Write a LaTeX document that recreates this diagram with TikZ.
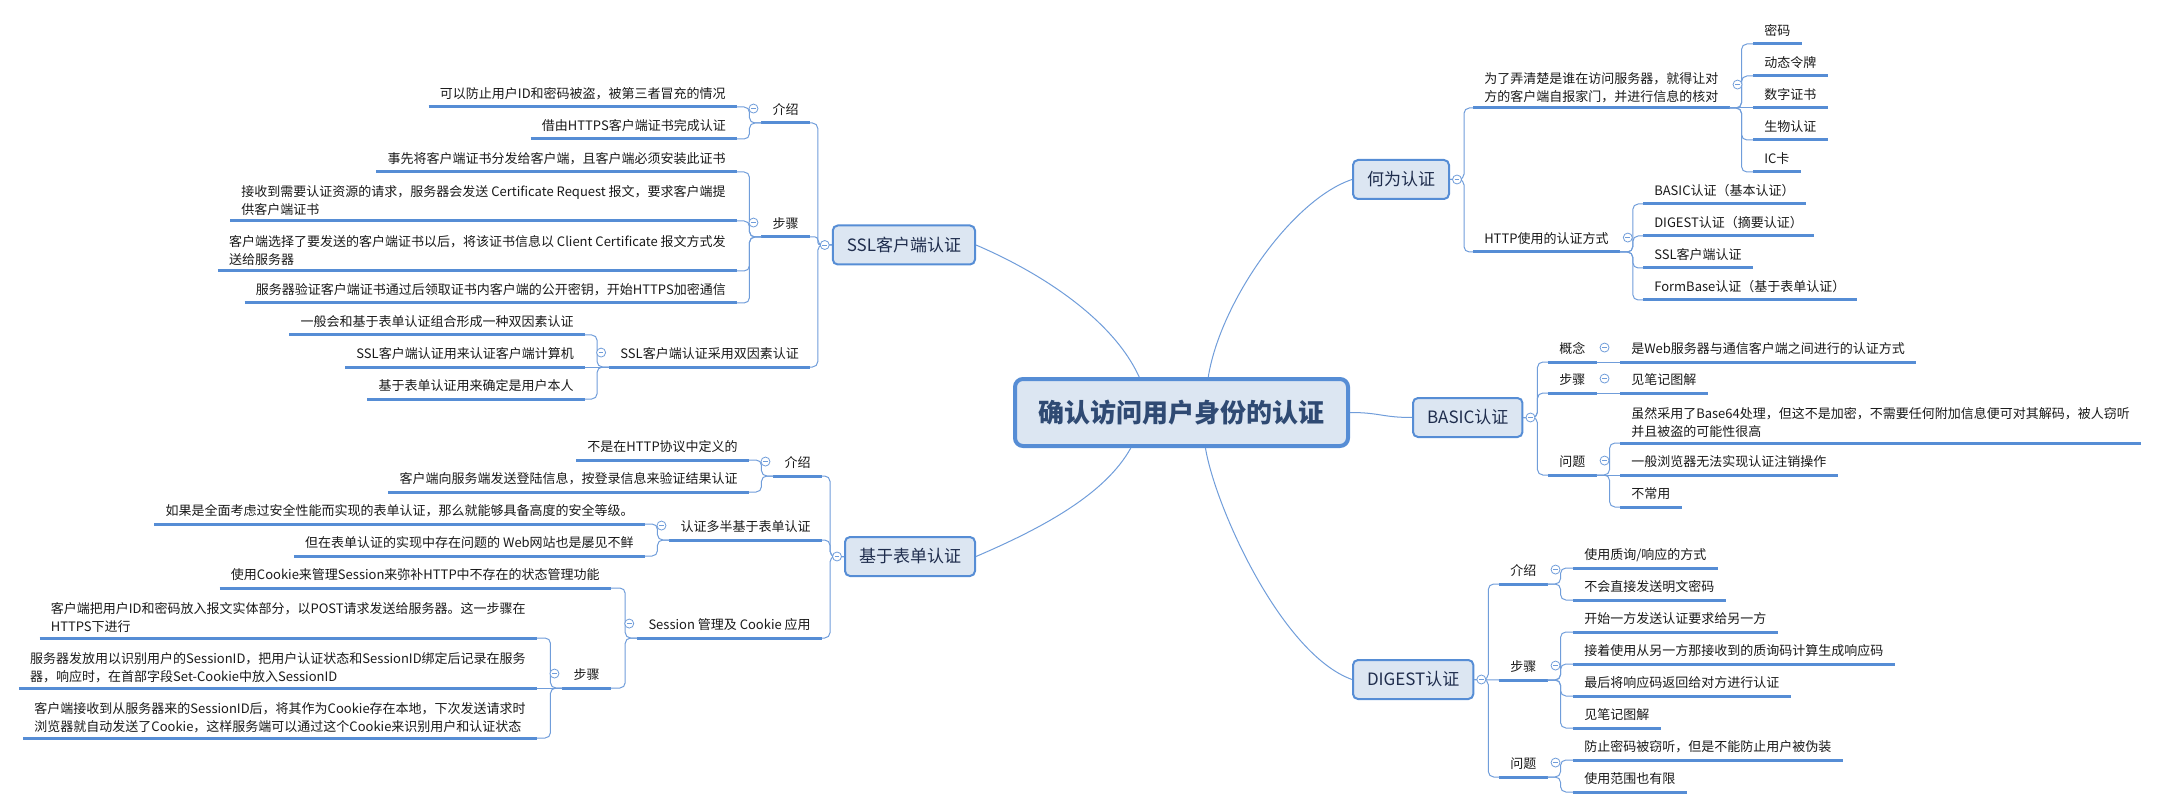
\documentclass[tikz,border=0pt]{standalone}
\usepackage{fontspec}
\setmainfont{Noto Sans CJK SC}
\usetikzlibrary{calc}
\definecolor{mapblue}{RGB}{86,141,213}
\definecolor{linkblue}{RGB}{112,157,218}
\definecolor{boxfill}{RGB}{220,230,242}
\definecolor{roottext}{RGB}{47,74,115}
\definecolor{boxtext}{RGB}{31,45,77}
\definecolor{leaftext}{RGB}{25,25,25}

\begin{document}
\begin{tikzpicture}[x=0.75pt, y=-0.75pt,
    root/.style={draw=mapblue, line width=3pt, fill=boxfill, rounded corners=6pt,
        minimum width=249.75pt, minimum height=50.25pt, text=roottext,
        font=\fontsize{19.5pt}{23pt}\selectfont\bfseries},
    topic/.style={draw=mapblue, line width=1.5pt, fill=boxfill, rounded corners=3.75pt,
        inner xsep=10.5pt, minimum height=29.25pt, text=boxtext,
        font=\fontsize{12.75pt}{15pt}\selectfont},
    uline/.style={draw=mapblue, line width=2.25pt},
    note/.style={inner xsep=8.25pt, text=leaftext, font=\fontsize{9.75pt}{13.5pt}\selectfont,
        append after command={(\tikzlastnode.south west) edge[uline] (\tikzlastnode.south east)}},
    leaf/.style={note, inner ysep=3.75pt, text height=7.5pt, text depth=2.25pt},
    leafm/.style={note, inner ysep=4pt, align=left},
    link/.style={draw=linkblue, line width=0.75pt, rounded corners=4pt},
    fold/.style={circle, draw=linkblue, fill=white, line width=0.6pt, minimum size=6.75pt, inner sep=0pt,
        path picture={\draw[linkblue, line width=0.6pt] ([xshift=1.6pt]path picture bounding box.west)
            -- ([xshift=-1.6pt]path picture bounding box.east);}}]
    \useasboundingbox (0,0) rectangle (2160,809);

    \node[root] (root) at (1181.5,412.5) {确认访问用户身份的认证};

    \node[topic, anchor=west] (what) at (1352,179.5) {何为认证};
    \node[topic, anchor=west] (basic) at (1412,417.5) {BASIC认证};
    \node[topic, anchor=west] (digest) at (1352,679.5) {DIGEST认证};
    \node[topic, anchor=east] (ssl) at (976,245) {SSL客户端认证};
    \node[topic, anchor=east] (form) at (976,556.5) {基于表单认证};

    \draw[link] (root.53) .. controls +(12,-75) and +(-60,20) .. (what.west);
    \draw[link] (root.east) .. controls +(30,0) and +(-30,0) .. (basic.west);
    \draw[link] (root.-56) .. controls +(10,60) and +(-70,-25) .. (digest.west);
    \draw[link] (root.140) .. controls +(-25,-55) and +(70,30) .. (ssl.east);
    \draw[link] (root.-145) .. controls +(-25,45) and +(70,-30) .. (form.east);

    % 何为认证
    \node[leafm, anchor=south west] (what1) at (1473,108) {为了弄清楚是谁在访问服务器，就得让对\\方的客户端自报家门，并进行信息的核对};
    \node[leaf, anchor=south west] (what2) at (1473,252) {HTTP使用的认证方式};
    \node[leaf, anchor=south west] (what1a) at (1753,44) {密码};
    \node[leaf, anchor=south west] (what1b) at (1753,76) {动态令牌};
    \node[leaf, anchor=south west] (what1c) at (1753,108) {数字证书};
    \node[leaf, anchor=south west] (what1d) at (1753,140) {生物认证};
    \node[leaf, anchor=south west] (what1e) at (1753,172) {IC卡};
    \node[leaf, anchor=south west] (what2a) at (1643,204) {BASIC认证（基本认证）};
    \node[leaf, anchor=south west] (what2b) at (1643,236) {DIGEST认证（摘要认证）};
    \node[leaf, anchor=south west] (what2c) at (1643,268) {SSL客户端认证};
    \node[leaf, anchor=south west] (what2d) at (1643,300) {FormBase认证（基于表单认证）};

    \draw[link] (what.east) -- ++(14,0) |- (what1.south west);
    \draw[link] (what.east) -- ++(14,0) |- (what2.south west);
    \draw[link] (what1.south east) -- ++(12,0) |- (what1a.south west);
    \draw[link] (what1.south east) -- ++(12,0) |- (what1b.south west);
    \draw[link] (what1.south east) -- (what1c.south west);
    \draw[link] (what1.south east) -- ++(12,0) |- (what1d.south west);
    \draw[link] (what1.south east) -- ++(12,0) |- (what1e.south west);
    \draw[link] (what2.south east) -- ++(13,0) |- (what2a.south west);
    \draw[link] (what2.south east) -- ++(13,0) |- (what2b.south west);
    \draw[link] (what2.south east) -- ++(13,0) |- (what2c.south west);
    \draw[link] (what2.south east) -- ++(13,0) |- (what2d.south west);

    % BASIC认证
    \node[leaf, anchor=south west] (basic1) at (1548,362) {概念};
    \node[leaf, anchor=south west] (basic2) at (1548,393) {步骤};
    \node[leaf, anchor=south west] (basic3) at (1548,475) {问题};
    \node[leaf, anchor=south west] (basic1a) at (1620,362) {是Web服务器与通信客户端之间进行的认证方式};
    \node[leaf, anchor=south west] (basic2a) at (1620,393) {见笔记图解};
    \node[leafm, anchor=south west] (basic3a) at (1620,443) {虽然采用了Base64处理，但这不是加密，不需要任何附加信息便可对其解码，被人窃听\\并且被盗的可能性很高};
    \node[leaf, anchor=south west] (basic3b) at (1620,475) {一般浏览器无法实现认证注销操作};
    \node[leaf, anchor=south west] (basic3c) at (1620,507) {不常用};

    \draw[link] (basic.east) -- ++(14,0) |- (basic1.south west);
    \draw[link] (basic.east) -- ++(14,0) |- (basic2.south west);
    \draw[link] (basic.east) -- ++(14,0) |- (basic3.south west);
    \draw[link] (basic1.south east) -- (basic1a.south west);
    \draw[link] (basic2.south east) -- (basic2a.south west);
    \draw[link] (basic3.south east) -- ++(13,0) |- (basic3a.south west);
    \draw[link] (basic3.south east) -- (basic3b.south west);
    \draw[link] (basic3.south east) -- ++(13,0) |- (basic3c.south west);

    % DIGEST认证
    \node[leaf, anchor=south west] (digest1) at (1499,584) {介绍};
    \node[leaf, anchor=south west] (digest2) at (1499,680) {步骤};
    \node[leaf, anchor=south west] (digest3) at (1499,777) {问题};
    \node[leaf, anchor=south west] (digest1a) at (1573,568) {使用质询/响应的方式};
    \node[leaf, anchor=south west] (digest1b) at (1573,600) {不会直接发送明文密码};
    \node[leaf, anchor=south west] (digest2a) at (1573,632) {开始一方发送认证要求给另一方};
    \node[leaf, anchor=south west] (digest2b) at (1573,664) {接着使用从另一方那接收到的质询码计算生成响应码};
    \node[leaf, anchor=south west] (digest2c) at (1573,696) {最后将响应码返回给对方进行认证};
    \node[leaf, anchor=south west] (digest2d) at (1573,728) {见笔记图解};
    \node[leaf, anchor=south west] (digest3a) at (1573,760) {防止密码被窃听，但是不能防止用户被伪装};
    \node[leaf, anchor=south west] (digest3b) at (1573,792) {使用范围也有限};

    \draw[link] (digest.east) -- ++(14,0) |- (digest1.south west);
    \draw[link] (digest.east) -- (digest2.south west);
    \draw[link] (digest.east) -- ++(14,0) |- (digest3.south west);
    \draw[link] (digest1.south east) -- ++(13,0) |- (digest1a.south west);
    \draw[link] (digest1.south east) -- ++(13,0) |- (digest1b.south west);
    \draw[link] (digest2.south east) -- ++(13,0) |- (digest2a.south west);
    \draw[link] (digest2.south east) -- ++(13,0) |- (digest2b.south west);
    \draw[link] (digest2.south east) -- ++(13,0) |- (digest2c.south west);
    \draw[link] (digest2.south east) -- ++(13,0) |- (digest2d.south west);
    \draw[link] (digest3.south east) -- ++(13,0) |- (digest3a.south west);
    \draw[link] (digest3.south east) -- ++(13,0) |- (digest3b.south west);

    % SSL客户端认证
    \node[leaf, anchor=south east] (ssl1) at (810,123) {介绍};
    \node[leaf, anchor=south east] (ssl2) at (810,237) {步骤};
    \node[leaf, anchor=south east] (ssl3) at (810,367) {SSL客户端认证采用双因素认证};
    \node[leaf, anchor=south east] (ssl1a) at (737,107) {可以防止用户ID和密码被盗，被第三者冒充的情况};
    \node[leaf, anchor=south east] (ssl1b) at (737,139) {借由HTTPS客户端证书完成认证};
    \node[leaf, anchor=south east] (ssl2a) at (737,172) {事先将客户端证书分发给客户端，且客户端必须安装此证书};
    \node[leafm, anchor=south east] (ssl2b) at (737,221) {接收到需要认证资源的请求，服务器会发送 Certificate Request 报文，要求客户端提\\供客户端证书};
    \node[leafm, anchor=south east] (ssl2c) at (737,271) {客户端选择了要发送的客户端证书以后，将该证书信息以 Client Certificate 报文方式发\\送给服务器};
    \node[leaf, anchor=south east] (ssl2d) at (737,303) {服务器验证客户端证书通过后领取证书内客户端的公开密钥，开始HTTPS加密通信};
    \node[leaf, anchor=south east] (ssl3a) at (585,335) {一般会和基于表单认证组合形成一种双因素认证};
    \node[leaf, anchor=south east] (ssl3b) at (585,367) {SSL客户端认证用来认证客户端计算机};
    \node[leaf, anchor=south east] (ssl3c) at (585,399) {基于表单认证用来确定是用户本人};

    \draw[link] (ssl.west) -- ++(-14,0) |- (ssl1.south east);
    \draw[link, rounded corners=2pt] (ssl.west) -- ++(-14,0) |- (ssl2.south east);
    \draw[link] (ssl.west) -- ++(-14,0) |- (ssl3.south east);
    \draw[link] (ssl1.south west) -- ++(-12,0) |- (ssl1a.south east);
    \draw[link] (ssl1.south west) -- ++(-12,0) |- (ssl1b.south east);
    \draw[link] (ssl2.south west) -- ++(-12,0) |- (ssl2a.south east);
    \draw[link] (ssl2.south west) -- ++(-12,0) |- (ssl2b.south east);
    \draw[link] (ssl2.south west) -- ++(-12,0) |- (ssl2c.south east);
    \draw[link] (ssl2.south west) -- ++(-12,0) |- (ssl2d.south east);
    \draw[link] (ssl3.south west) -- ++(-12,0) |- (ssl3a.south east);
    \draw[link] (ssl3.south west) -- (ssl3b.south east);
    \draw[link] (ssl3.south west) -- ++(-12,0) |- (ssl3c.south east);

    % 基于表单认证
    \node[leaf, anchor=south east] (form1) at (822,476) {介绍};
    \node[leaf, anchor=south east] (form2) at (822,540) {认证多半基于表单认证};
    \node[leaf, anchor=south east] (form3) at (822,638) {Session 管理及 Cookie 应用};
    \node[leaf, anchor=south east] (form1a) at (749,460) {不是在HTTP协议中定义的};
    \node[leaf, anchor=south east] (form1b) at (749,492) {客户端向服务端发送登陆信息，按登录信息来验证结果认证};
    \node[leaf, anchor=south east] (form2a) at (645,524) {如果是全面考虑过安全性能而实现的表单认证，那么就能够具备高度的安全等级。};
    \node[leaf, anchor=south east] (form2b) at (645,556) {但在表单认证的实现中存在问题的 Web网站也是屡见不鲜};
    \node[leaf, anchor=south east] (form3a) at (611,588) {使用Cookie来管理Session来弥补HTTP中不存在的状态管理功能};
    \node[leaf, anchor=south east] (form3b) at (611,688) {步骤};
    \node[leafm, anchor=south east] (form3b1) at (537,638) {客户端把用户ID和密码放入报文实体部分，以POST请求发送给服务器。这一步骤在\\HTTPS下进行};
    \node[leafm, anchor=south east] (form3b2) at (537,688) {服务器发放用以识别用户的SessionID，把用户认证状态和SessionID绑定后记录在服务\\器，响应时，在首部字段Set-Cookie中放入SessionID};
    \node[leafm, anchor=south east] (form3b3) at (537,738) {客户端接收到从服务器来的SessionID后，将其作为Cookie存在本地，下次发送请求时\\浏览器就自动发送了Cookie，这样服务端可以通过这个Cookie来识别用户和认证状态};

    \draw[link] (form.west) -- ++(-14,0) |- (form1.south east);
    \draw[link] (form.west) -- ++(-14,0) |- (form2.south east);
    \draw[link] (form.west) -- ++(-14,0) |- (form3.south east);
    \draw[link] (form1.south west) -- ++(-12,0) |- (form1a.south east);
    \draw[link] (form1.south west) -- ++(-12,0) |- (form1b.south east);
    \draw[link] (form2.south west) -- ++(-12,0) |- (form2a.south east);
    \draw[link] (form2.south west) -- ++(-12,0) |- (form2b.south east);
    \draw[link] (form3.south west) -- ++(-12,0) |- (form3a.south east);
    \draw[link] (form3.south west) -- ++(-12,0) |- (form3b.south east);
    \draw[link] (form3b.south west) -- ++(-12,0) |- (form3b1.south east);
    \draw[link] (form3b.south west) -- (form3b2.south east);
    \draw[link] (form3b.south west) -- ++(-12,0) |- (form3b3.south east);

    % fold markers
    \node[fold] (whatf) at ([xshift=5.25pt]what.east) {};
    \node[fold] (basicf) at ([xshift=5.25pt]basic.east) {};
    \node[fold] (digestf) at ([xshift=5.25pt]digest.east) {};
    \node[fold] (sslf) at ([xshift=-5.25pt]ssl.west) {};
    \node[fold] (formf) at ([xshift=-5.25pt]form.west) {};
    \node[fold] (what1f) at ([xshift=6pt,yshift=2pt]what1.east) {};
    \node[fold] (what2f) at ([xshift=6pt,yshift=2pt]what2.east) {};
    \node[fold] (basic1f) at ([xshift=6pt,yshift=2pt]basic1.east) {};
    \node[fold] (basic2f) at ([xshift=6pt,yshift=2pt]basic2.east) {};
    \node[fold] (basic3f) at ([xshift=6pt,yshift=2pt]basic3.east) {};
    \node[fold] (digest1f) at ([xshift=6pt,yshift=2pt]digest1.east) {};
    \node[fold] (digest2f) at ([xshift=6pt,yshift=2pt]digest2.east) {};
    \node[fold] (digest3f) at ([xshift=6pt,yshift=2pt]digest3.east) {};
    \node[fold] (ssl1f) at ([xshift=-6pt,yshift=2pt]ssl1.west) {};
    \node[fold] (ssl2f) at ([xshift=-6pt,yshift=2pt]ssl2.west) {};
    \node[fold] (ssl3f) at ([xshift=-6pt,yshift=2pt]ssl3.west) {};
    \node[fold] (form1f) at ([xshift=-6pt,yshift=2pt]form1.west) {};
    \node[fold] (form2f) at ([xshift=-6pt,yshift=2pt]form2.west) {};
    \node[fold] (form3f) at ([xshift=-6pt,yshift=2pt]form3.west) {};
    \node[fold] (form3bf) at ([xshift=-6pt,yshift=2pt]form3b.west) {};
\end{tikzpicture}
\end{document}
